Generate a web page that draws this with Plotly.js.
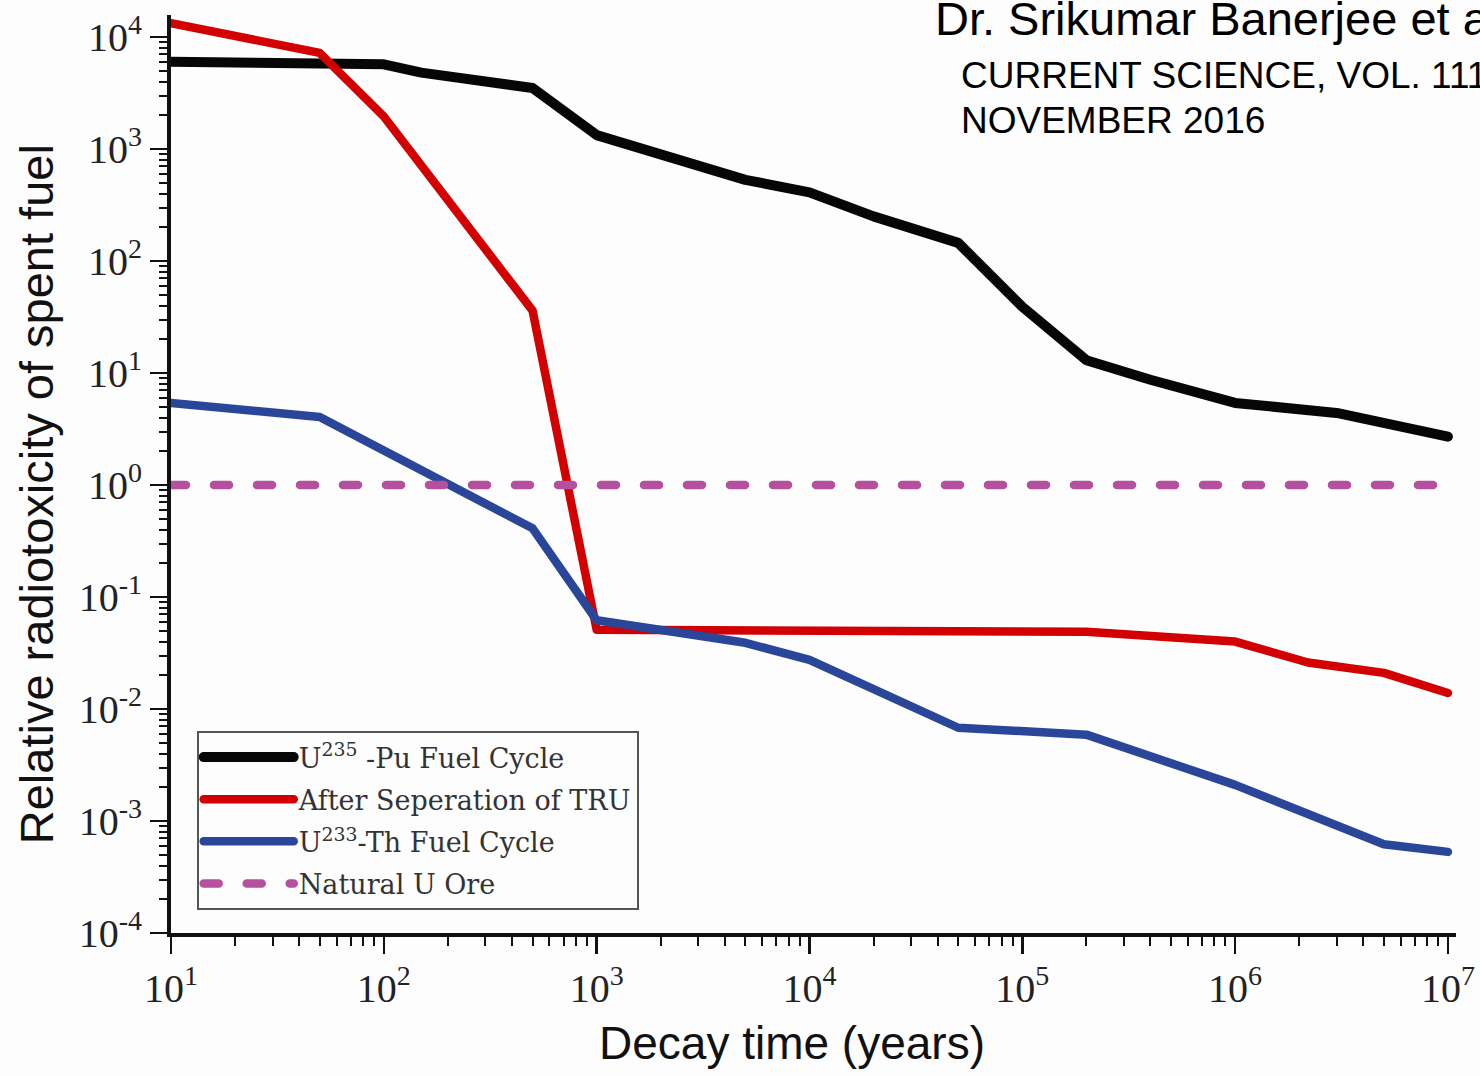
<!DOCTYPE html>
<html><head><meta charset="utf-8">
<script src="https://cdn.plot.ly/plotly-3.0.1.min.js"></script>
<style>
html,body{margin:0;padding:0;background:#fdfdfd;}
#chart{width:1480px;height:1076px;}
.scatterlayer .js-line, .legend .js-line {stroke-linecap:round; stroke-linejoin:round;}
</style></head><body><div id="chart"></div>
<script>
// Decay time (years) and relative radiotoxicity values
const puCycleTime = [10, 50, 100, 150, 500, 1000, 1840, 5000, 10000, 20000, 50000, 100000, 200000, 400000, 1000000, 3000000, 10000000];
const puCycleTox  = [6000, 6000, 5700, 4800, 3500, 1330, 920, 530, 410, 250, 145, 39, 13, 8.7, 5.4, 4.4, 2.7];

const truSepTime = [10, 50, 100, 500, 1000, 10000, 200000, 1000000, 2200000, 5000000, 10000000];
const truSepTox  = [13300, 7200, 1950, 36, 0.051, 0.050, 0.049, 0.040, 0.026, 0.021, 0.0139];

const thCycleTime = [10, 50, 500, 1000, 5000, 10000, 50000, 200000, 1000000, 5000000, 10000000];
const thCycleTox  = [5.4, 4.05, 0.41, 0.062, 0.039, 0.0274, 0.0068, 0.0059, 0.0021, 0.00062, 0.00053];

const oreTime = [10, 10000000];
const oreTox  = [1, 1];

const seriesNames = ['U<sup>235</sup> -Pu Fuel Cycle', 'After Seperation of TRU', 'U<sup>233</sup>-Th Fuel Cycle', 'Natural U Ore'];

const xTickVals = [1e1, 1e2, 1e3, 1e4, 1e5, 1e6, 1e7];
const xTickText = ['10<sup>1</sup>', '10<sup>2</sup>', '10<sup>3</sup>', '10<sup>4</sup>', '10<sup>5</sup>', '10<sup>6</sup>', '10<sup>7</sup>'];
const yTickVals = [1e-4, 1e-3, 1e-2, 1e-1, 1e0, 1e1, 1e2, 1e3, 1e4];
const yTickText = ['10<sup>-4</sup>', '10<sup>-3</sup>', '10<sup>-2</sup>', '10<sup>-1</sup>', '10<sup>0</sup>', '10<sup>1</sup>', '10<sup>2</sup>', '10<sup>3</sup>', '10<sup>4</sup>'];

// minor tick positions (2..9 within each decade)
function minorTicks(lo, hi) {
  const out = [];
  for (let p = lo; p < hi; p++) for (let m = 2; m <= 9; m++) out.push(m * Math.pow(10, p));
  return out;
}
const xMinorVals = minorTicks(1, 7);
const yMinorVals = minorTicks(-4, 4);

const traces = [
  {x: puCycleTime, y: puCycleTox, name: seriesNames[0], legendgroup: 'g1', mode: 'lines', line: {color: '#060606', width: 10}},
  {x: truSepTime, y: truSepTox, name: seriesNames[1], legendgroup: 'g2', mode: 'lines', line: {color: '#d20000', width: 8.5}},
  {x: thCycleTime, y: thCycleTox, name: seriesNames[2], legendgroup: 'g3', mode: 'lines', line: {color: '#2a4699', width: 8.5}},
  {x: oreTime, y: oreTox, name: seriesNames[3], legendgroup: 'g4', mode: 'lines', line: {color: '#b5509f', width: 8.5, dash: '15px,28px'}}
];

const axisCommon = {
  type: 'log', tickmode: 'array', ticks: 'outside', ticklen: 17, tickwidth: 2.5, tickcolor: '#111',
  showline: true, linewidth: 4, linecolor: '#111', showgrid: false, zeroline: false,
  tickfont: {family: 'Liberation Serif, serif', size: 40, color: '#222'}
};

const titleFont = {family: 'Liberation Sans, Arial, sans-serif', size: 46, color: '#111'};

const layout = {
  width: 1480, height: 1076,
  paper_bgcolor: '#fdfdfd', plot_bgcolor: '#fdfdfd',
  margin: {l: 171, r: 24, t: 15, b: 143},
  showlegend: true,
  xaxis: Object.assign({}, axisCommon, {
    range: [1, 7.038], tickvals: xTickVals, ticktext: xTickText,
    minor: {tickmode: 'array', tickvals: xMinorVals, ticks: 'outside', ticklen: 9, tickwidth: 2, tickcolor: '#111', showgrid: false}
  }),
  yaxis: Object.assign({}, axisCommon, {
    range: [-4, 4.196], tickvals: yTickVals, ticktext: yTickText,
    minor: {tickmode: 'array', tickvals: yMinorVals, ticks: 'outside', ticklen: 8, tickwidth: 2, tickcolor: '#111', showgrid: false}
  }),
  legend: {
    x: 0.02, y: 0.025, xanchor: 'left', yanchor: 'bottom',
    bordercolor: '#555', borderwidth: 2, bgcolor: 'rgba(255,255,255,0)',
    font: {family: 'DejaVu Serif, serif', size: 27, color: '#333'},
    itemwidth: 90, tracegroupgap: 4
  },
  annotations: [
    {text: 'Relative radiotoxicity of spent fuel', xref: 'paper', yref: 'paper', x: -0.105, y: 0.478,
     xanchor: 'center', yanchor: 'middle', textangle: -90, showarrow: false,
     font: {family: 'Liberation Sans, Arial, sans-serif', size: 47, color: '#111'}},
    {text: 'Decay time (years)', xref: 'paper', yref: 'paper', x: 0.4833, y: -0.1198,
     xanchor: 'center', yanchor: 'middle', showarrow: false, font: titleFont},
    {text: 'Dr. Srikumar Banerjee et al.', xref: 'paper', yref: 'paper', x: 0.593, y: 0.9967,
     xanchor: 'left', yanchor: 'middle', showarrow: false,
     font: {family: 'Liberation Sans, Arial, sans-serif', size: 47, color: '#000'}},
    {text: 'CURRENT SCIENCE, VOL. 111, NO. 10, 25', xref: 'paper', yref: 'paper', x: 0.6135, y: 0.9346,
     xanchor: 'left', yanchor: 'middle', showarrow: false,
     font: {family: 'Liberation Sans, Arial, sans-serif', size: 37, color: '#000'}},
    {text: 'NOVEMBER 2016', xref: 'paper', yref: 'paper', x: 0.6135, y: 0.8856,
     xanchor: 'left', yanchor: 'middle', showarrow: false,
     font: {family: 'Liberation Sans, Arial, sans-serif', size: 37, color: '#000'}}
  ]
};

Plotly.newPlot('chart', traces, layout, {staticPlot: true, displayModeBar: false});
</script></body></html>
